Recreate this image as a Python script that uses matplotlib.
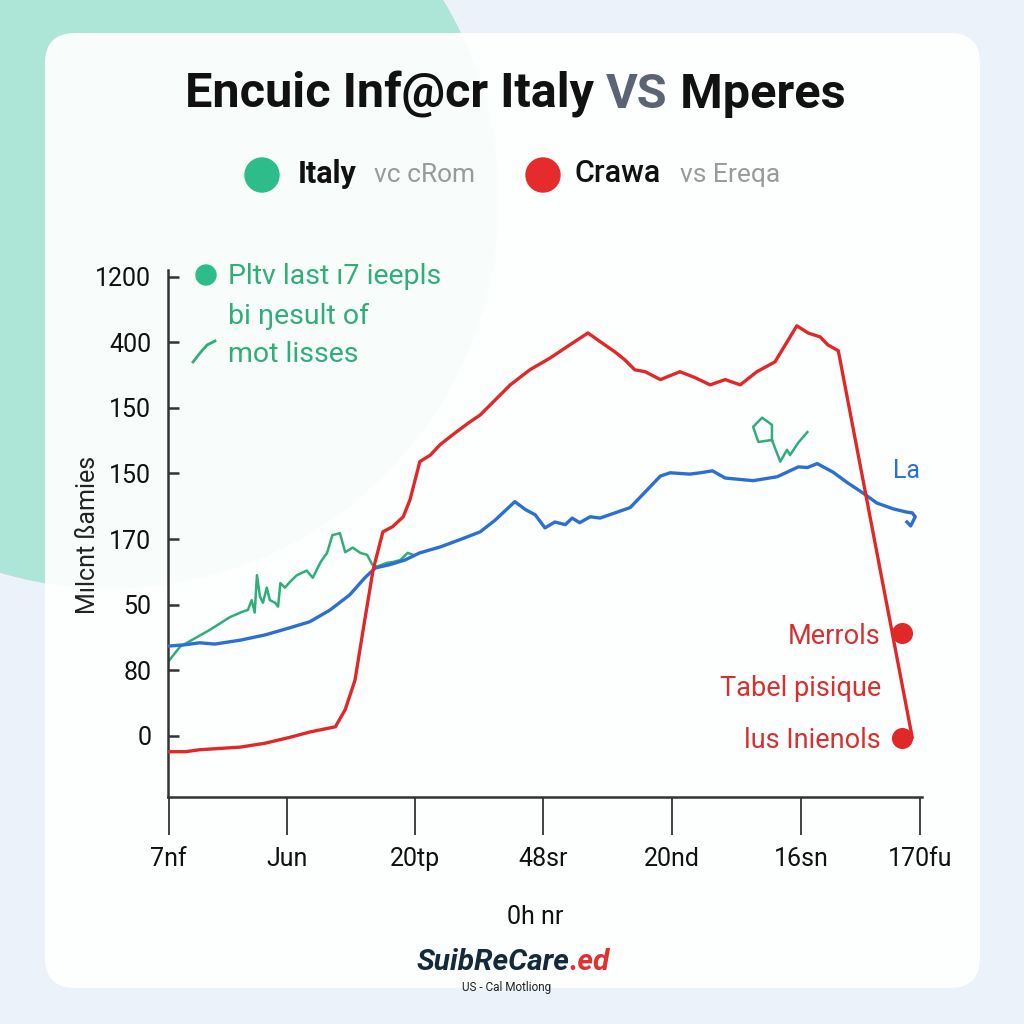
import numpy as np
import matplotlib
matplotlib.use("Agg")
import matplotlib.pyplot as plt
from matplotlib.patches import Circle, FancyBboxPatch
from matplotlib.offsetbox import TextArea, HPacker, AnnotationBbox

plt.rcParams['font.family'] = ['Roboto', 'DejaVu Sans']

# ---- data (x in days 0..100, y in axis-step units) ----
blue_x = [0.1, 2.3, 4.2, 6.2, 9.6, 12.9, 16.2, 18.8, 21.5, 24.1, 26.1, 27.5, 29.4, 31.4,
          33.4, 36.1, 38.7, 41.4, 43.4, 44.7, 46.0, 47.4, 48.7, 50.0, 51.3, 52.7, 53.6,
          54.6, 56.0, 57.3, 59.3, 61.3, 63.3, 65.3, 66.6, 69.2, 70.6, 72.2, 73.9, 77.6,
          80.8, 83.6, 84.8, 86.1, 88.2, 90.1, 92.2, 94.0, 96.2, 98.0, 98.7, 99.1, 98.5, 98.0]
blue_y = [1.37, 1.39, 1.42, 1.40, 1.46, 1.54, 1.65, 1.74, 1.92, 2.15, 2.41, 2.56, 2.61, 2.68,
          2.79, 2.88, 2.99, 3.11, 3.29, 3.43, 3.57, 3.45, 3.37, 3.17, 3.26, 3.22, 3.32,
          3.25, 3.34, 3.32, 3.40, 3.48, 3.72, 3.96, 4.01, 3.99, 4.01, 4.04, 3.93, 3.89,
          3.95, 4.10, 4.09, 4.15, 4.02, 3.86, 3.70, 3.55, 3.46, 3.41, 3.40, 3.34, 3.20, 3.26]

red_x = [0.1, 2.3, 4.2, 9.6, 12.9, 16.2, 18.8, 22.2, 23.5, 24.8, 26.1, 27.2, 28.5, 29.8,
         31.2, 32.1, 33.4, 34.8, 36.1, 38.1, 40.1, 41.4, 43.4, 45.4, 48.0, 50.7, 53.3,
         55.7, 57.3, 59.3, 60.6, 61.9, 63.3, 65.3, 67.9, 69.9, 71.9, 73.9, 75.9, 78.1,
         80.5, 83.4, 84.9, 86.5, 87.5, 88.9, 98.7]
red_y = [-0.24, -0.24, -0.21, -0.17, -0.11, -0.02, 0.06, 0.14, 0.40, 0.85, 1.77, 2.53, 3.11, 3.19,
         3.34, 3.60, 4.18, 4.28, 4.44, 4.62, 4.79, 4.89, 5.12, 5.35, 5.58, 5.76, 5.96,
         6.14, 6.01, 5.85, 5.73, 5.58, 5.55, 5.43, 5.55, 5.46, 5.35, 5.43, 5.35, 5.55,
         5.70, 6.25, 6.14, 6.08, 5.96, 5.87, -0.02]
red_pts_x = [97.4, 97.4]
red_pts_y = [1.57, -0.03]

green_x = [0.0, 1.6, 3.6, 5.6, 8.2, 9.8, 10.6, 11.1, 11.5, 11.8, 12.2, 12.6, 13.1, 13.5,
           14.2, 14.6, 14.9, 15.5, 16.2, 17.1, 18.4, 19.2, 20.2, 20.6, 21.1, 21.8, 22.8,
           23.5, 24.5, 25.5, 26.4, 27.1, 27.7, 29.1, 29.8, 30.8, 31.8, 32.5]
green_y = [1.13, 1.36, 1.49, 1.62, 1.81, 1.89, 1.92, 2.07, 1.88, 2.45, 2.12, 2.03, 2.26, 2.07,
           2.03, 1.97, 2.33, 2.26, 2.35, 2.45, 2.52, 2.41, 2.64, 2.71, 2.79, 3.06, 3.09,
           2.80, 2.87, 2.79, 2.76, 2.61, 2.58, 2.64, 2.65, 2.68, 2.79, 2.76]
green2_x = [80.1, 78.3, 77.6, 78.8, 80.1, 80.1, 81.2, 82.1, 82.5, 83.6, 84.8]
green2_y = [4.51, 4.48, 4.71, 4.85, 4.74, 4.51, 4.18, 4.36, 4.28, 4.47, 4.63]

x_ticks = [0.1, 15.8, 32.8, 49.7, 66.8, 84.0, 99.7]
x_labels = ['7nf', 'Jun', '20tp', '48sr', '20nd', '16sn', '170fu']
y_ticks = [0, 1, 2, 3, 4, 5, 6, 7]
y_labels = ['0', '80', '50', '170', '150', '150', '400', '1200']

GREEN = '#2fae7a'
RED = '#e02828'
BLUE = '#2b6fd1'

fig = plt.figure(figsize=(10.24, 10.24), dpi=100, facecolor='#ebf2f9')

# background / decoration layer in pixel coords
bg = fig.add_axes([0, 0, 1, 1], zorder=0)
bg.set_xlim(0, 1024)
bg.set_ylim(1024, 0)
bg.axis('off')
bg.add_patch(Circle((110, 200), 388, color='#ade6d6', zorder=0))
bg.add_patch(FancyBboxPatch((45, 33), 935, 955, boxstyle='round,pad=0,rounding_size=30',
                            fc='white', ec='none', alpha=0.93, zorder=1))

def row(x, y, parts):
    boxes = [TextArea(s, textprops=p) for s, p in parts]
    pack = HPacker(children=boxes, align='baseline', pad=0, sep=0)
    ab = AnnotationBbox(pack, (x, y), xycoords='data', frameon=False, box_alignment=(0.5, 0.5), pad=0)
    bg.add_artist(ab)

row(515, 95, [('Encuic Inf@cr Italy ', dict(fontsize=35, fontweight='bold', color='#111111')),
              ('VS', dict(fontsize=35, fontweight='bold', color='#5c6474')),
              (' Mperes', dict(fontsize=35, fontweight='bold', color='#111111'))])

bg.add_patch(Circle((262, 175), 17, color='#2dbd8a', zorder=3))
bg.add_patch(Circle((543, 175), 17, color='#e52b2b', zorder=3))
bg.text(298, 174, 'Italy', fontsize=22, fontweight='bold', color='#111111', va='center', zorder=3)
bg.text(374, 175, 'vc cRom', fontsize=19, color='#9a9a9a', va='center', zorder=3)
bg.text(574, 174, 'Crawa', fontsize=22, fontweight='medium', color='#111111', va='center', zorder=3)
bg.text(680, 175, 'vs Ereqa', fontsize=19, color='#9a9a9a', va='center', zorder=3)

# green note
bg.add_patch(Circle((206, 275), 10, color='#2dbd8a', zorder=3))
bg.text(228, 277, 'Pltv last ı7 ieepls', fontsize=20.5, color=GREEN, va='center', zorder=3)
bg.text(228, 316, 'bi ŋesult of', fontsize=20.5, color=GREEN, va='center', zorder=3)
bg.text(228, 354, 'mot lisses', fontsize=20.5, color=GREEN, va='center', zorder=3)
bg.plot([193, 200, 207, 215], [362, 353, 345, 341], color=GREEN, lw=2, zorder=3)

# red notes
for yy, s in [(636, 'Merrols'), (688, 'Tabel pisique'), (740, 'lus Inienols')]:
    bg.text(881, yy, s, fontsize=19.5, color='#d63030', ha='right', va='center', zorder=3)
bg.text(893, 471, 'La', fontsize=18, color=BLUE, va='center', zorder=3)

bg.text(88, 535, 'Mılcnt ßamies', fontsize=18, color='#222222', rotation=90,
        ha='center', va='center', zorder=3)
bg.text(535, 917, '0h nr', fontsize=18, color='#111111', ha='center', va='center', zorder=3)
row(513, 962, [('SuibReCare', dict(fontsize=21.5, fontweight='bold', style='italic', color='#14293a')),
               ('.ed', dict(fontsize=21.5, fontweight='bold', style='italic', color='#e03030'))])
bg.text(507, 987, 'US - Cal Motliong', fontsize=8.5, color='#222222', ha='center', va='center', zorder=3)

# chart
ax = fig.add_axes([168 / 1024, 1 - 797 / 1024, (922 - 168) / 1024, (797 - 270) / 1024], zorder=2)
ax.patch.set_alpha(0)
ax.plot(green_x, green_y, color=GREEN, lw=1.8, zorder=2)
ax.plot(green2_x, green2_y, color=GREEN, lw=1.8, zorder=2)
ax.plot(blue_x, blue_y, color=BLUE, lw=2.4, zorder=3)
ax.plot(red_x, red_y, color=RED, lw=2.4, zorder=4)
ax.scatter(red_pts_x, red_pts_y, s=200, color=RED, zorder=5, clip_on=False)

ax.set_xlim(0, 100)
ax.set_ylim(-0.93, 7.1)
ax.set_xticks(x_ticks)
ax.set_xticklabels(x_labels, fontsize=18, color='#111111')
ax.set_yticks(y_ticks)
ax.set_yticklabels(y_labels, fontsize=18, color='#111111')
ax.tick_params(axis='x', direction='out', length=27, width=1.3, color='#333333', pad=9)
ax.tick_params(axis='y', direction='in', length=8, width=1.8, color='#333333', pad=12)
for side in ['top', 'right']:
    ax.spines[side].set_visible(False)
for side in ['left', 'bottom']:
    ax.spines[side].set_color('#333333')
    ax.spines[side].set_linewidth(1.8)

fig.savefig('out.png', dpi=100, facecolor=fig.get_facecolor())
